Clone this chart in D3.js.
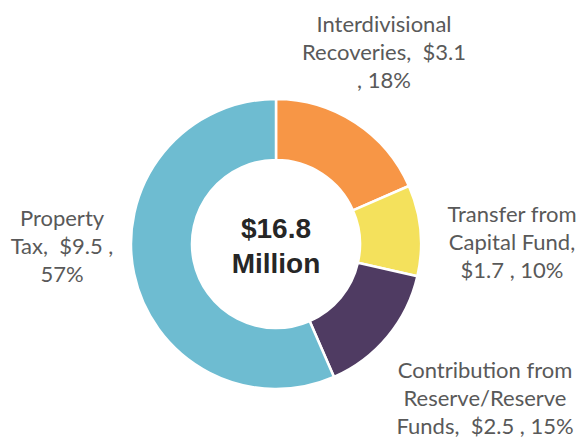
<!DOCTYPE html>
<html>
<head>
<meta charset="utf-8">
<script src="https://cdn.jsdelivr.net/npm/d3@7"></script>
<style>
  body { margin: 0; background: #fff; }
  svg { display: block; }
</style>
</head>
<body>
<div id="chart"></div>
<script>
// data
var categories = ["Interdivisional Recoveries", "Transfer from Capital Fund", "Contribution from Reserve/Reserve Funds", "Property Tax"];
var values = [3.1, 1.7, 2.5, 9.5];
var percents = ["18%", "10%", "15%", "57%"];
var colors = ["#F79646", "#F4E15C", "#4F3B62", "#6EBCD1"];
// label lines as they wrap in the original
var labelLines = [
  ["Interdivisional", "Recoveries,  $3.1", ", 18%"],
  ["Transfer from", "Capital Fund,", "$1.7 , 10%"],
  ["Contribution from", "Reserve/Reserve", "Funds,  $2.5 , 15%"],
  ["Property", "Tax,  $9.5 ,", "57%"]
];
var labelPos = [[384, 23], [512, 213], [485, 369], [62, 217]];
var totalLines = ["$16.8", "Million"];

var width = 580, height = 439;
var cx = 276, cy = 244;
var outerR = 145, innerR = 84;

var svg = d3.select("#chart")
  .append("svg")
  .attr("width", width)
  .attr("height", height);

var pie = d3.pie().sort(null).value(function (d) { return d; });
var arc = d3.arc().innerRadius(innerR).outerRadius(outerR);

var g = svg.append("g")
  .attr("transform", "translate(" + cx + "," + cy + ")");

g.selectAll("path")
  .data(pie(values))
  .enter()
  .append("path")
  .attr("d", arc)
  .style("fill", function (d, i) { return colors[i]; })
  .style("stroke", "#fff")
  .style("stroke-width", 2.5);

// center total
g.selectAll("text.total")
  .data(totalLines)
  .enter()
  .append("text")
  .attr("class", "total")
  .attr("text-anchor", "middle")
  .attr("x", 0)
  .attr("y", function (d, i) { return -6 + i * 35; })
  .style("font-family", "'Liberation Sans', Arial, sans-serif")
  .style("font-weight", "bold")
  .style("font-size", "28px")
  .style("fill", "#262626")
  .text(function (d) { return d; });

// data labels
var labels = svg.selectAll("g.label")
  .data(labelLines)
  .enter()
  .append("g")
  .attr("class", "label")
  .attr("transform", function (d, i) {
    return "translate(" + labelPos[i][0] + "," + labelPos[i][1] + ")";
  });

labels.selectAll("text")
  .data(function (d) { return d; })
  .enter()
  .append("text")
  .attr("text-anchor", "middle")
  .attr("dominant-baseline", "central")
  .attr("y", function (d, i) { return i * 28.3; })
  .style("font-family", "Lato, 'Open Sans', sans-serif")
  .style("font-size", "22px")
  .style("fill", "#595959")
  .style("white-space", "pre")
  .text(function (d) { return d; });
</script>
</body>
</html>
